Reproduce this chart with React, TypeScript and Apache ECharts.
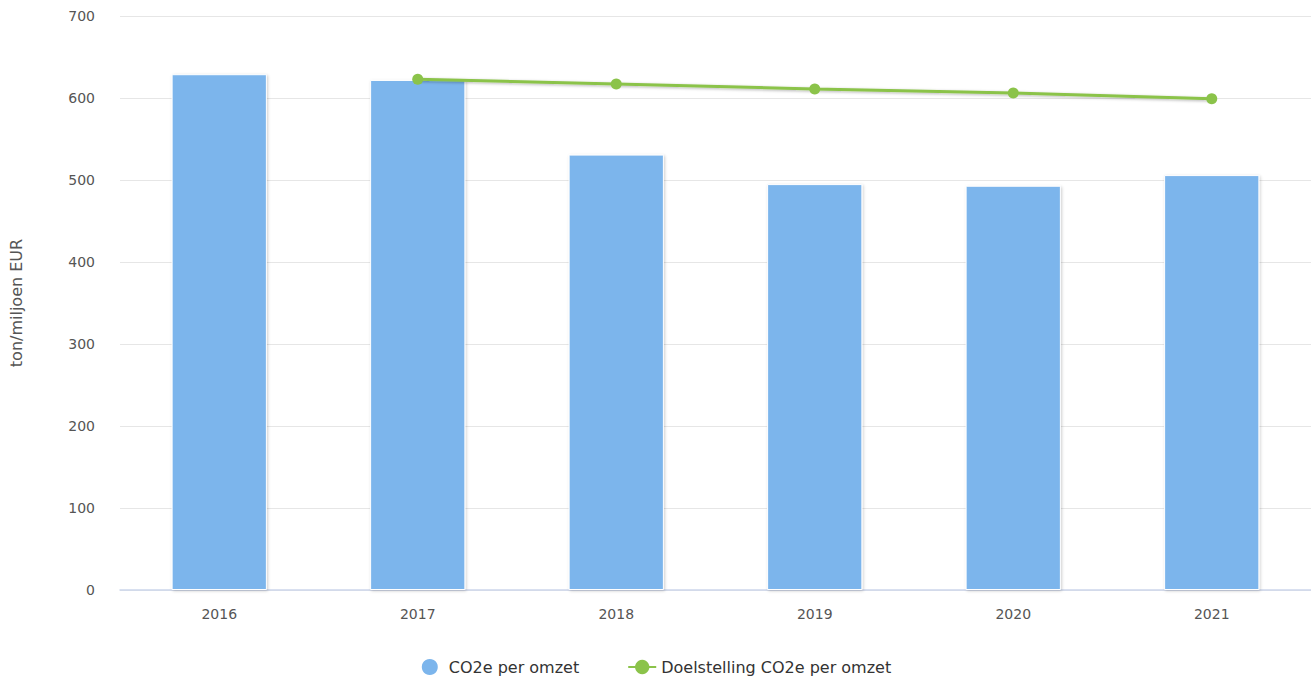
import React, { useEffect, useRef } from "react";
import * as echarts from "echarts";

const categories = ["2016", "2017", "2018", "2019", "2020", "2021"];
const co2PerOmzet = [629, 622, 531, 495, 493, 506];
const doelstelling = [null, 623, 617, 611, 606, 599];
const yTicks = { min: 0, max: 700, interval: 100 };

const FONT = "DejaVu Sans";

export default function App() {
  const ref = useRef<HTMLDivElement>(null);
  useEffect(() => {
    if (!ref.current) return;
    const chart = echarts.init(ref.current, undefined, { renderer: "svg" });
    chart.setOption({
      animation: false,
      textStyle: { fontFamily: FONT },
      grid: { left: 120, right: 0, top: 16, bottom: 91, containLabel: false },
      legend: {
        top: 652,
        left: "center",
        itemGap: 48,
        itemWidth: 28,
        itemHeight: 18,
        textStyle: { fontFamily: FONT, fontSize: 16, color: "#333" },
        data: [
          { name: "CO2e per omzet", icon: "circle" },
          { name: "Doelstelling CO2e per omzet" },
        ],
      },
      xAxis: {
        type: "category",
        data: categories,
        axisLine: { lineStyle: { color: "#ccd6eb", width: 1.5 } },
        axisTick: { show: false },
        axisLabel: { color: "#555", fontSize: 14, fontFamily: FONT, margin: 17 },
      },
      yAxis: {
        type: "value",
        min: yTicks.min,
        max: yTicks.max,
        interval: yTicks.interval,
        name: "ton/miljoen EUR",
        nameLocation: "middle",
        nameGap: 96,
        nameRotate: 90,
        nameTextStyle: { color: "#555", fontSize: 16, fontFamily: FONT },
        axisLine: { show: false },
        axisTick: { show: false },
        axisLabel: { color: "#555", fontSize: 14, fontFamily: FONT, margin: 25 },
        splitLine: { lineStyle: { color: "#e6e6e6" } },
      },
      series: [
        {
          name: "CO2e per omzet",
          type: "bar",
          data: co2PerOmzet,
          barWidth: "48%",
          itemStyle: {
            color: "#7cb5ec",
            borderColor: "#ffffff",
            borderWidth: 1,
            shadowColor: "rgba(0,0,0,0.2)",
            shadowBlur: 3,
            shadowOffsetX: 1,
            shadowOffsetY: 1,
          },
        },
        {
          name: "Doelstelling CO2e per omzet",
          type: "line",
          data: doelstelling,
          symbol: "circle",
          symbolSize: 11,
          color: "#8bc34a",
          lineStyle: {
            color: "#8bc34a",
            width: 3,
            shadowColor: "rgba(0,0,0,0.3)",
            shadowBlur: 3,
            shadowOffsetX: 1,
            shadowOffsetY: 1,
          },
          itemStyle: { color: "#8bc34a" },
        },
      ],
    });
    return () => chart.dispose();
  }, []);
  return <div ref={ref} style={{ width: 1311, height: 681, position: "absolute", left: 0, top: 0 }} />;
}
